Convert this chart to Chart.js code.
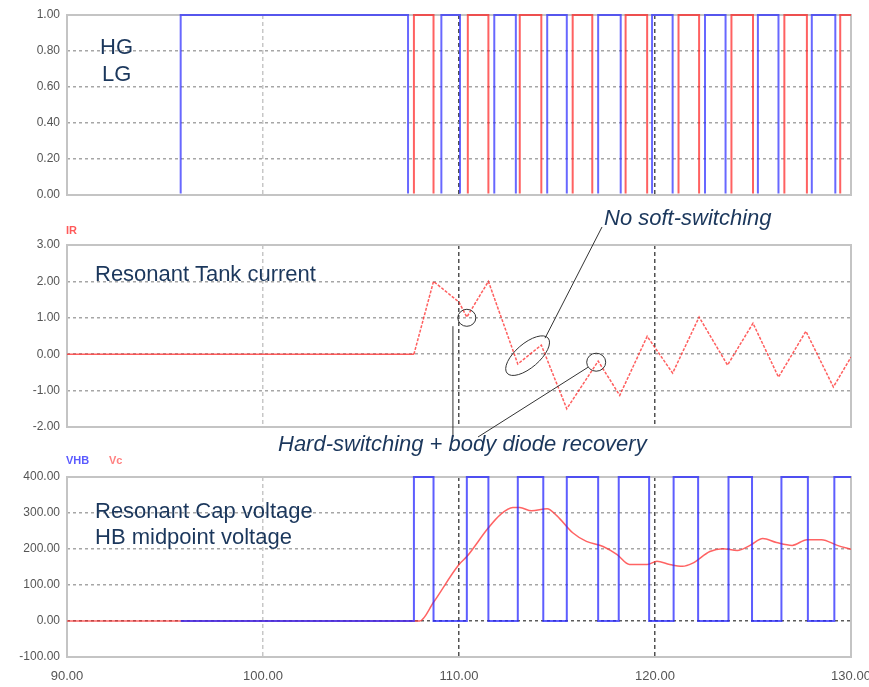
<!DOCTYPE html>
<html>
<head>
<meta charset="utf-8">
<script src="https://cdn.jsdelivr.net/npm/chart.js@4"></script>
<style>
  body { margin: 0; background: #fff; width: 869px; height: 687px; position: relative; overflow: hidden;
         font-family: "Liberation Sans", Arial, sans-serif; }
  canvas { position: absolute; left: 0; }
  .note { position: absolute; font-size: 22px; line-height: 22px; color: #1b375c; white-space: nowrap; z-index: 5; }
  .note.it { font-style: italic; }
  .tag { position: absolute; font-size: 11px; line-height: 12px; font-weight: bold; z-index: 5; }
</style>
</head>
<body>
<canvas id="gates" width="869" height="205" style="top:0"></canvas>
<canvas id="current" width="869" height="255" style="top:205px"></canvas>
<canvas id="voltage" width="869" height="247" style="top:440px"></canvas>

<div class="note" style="left:100px;top:36px">HG</div>
<div class="note" style="left:102px;top:63px">LG</div>
<div class="note" style="left:95px;top:263px">Resonant Tank current</div>
<div class="note it" style="left:604px;top:207px">No soft-switching</div>
<div class="note it" style="left:278px;top:433px">Hard-switching + body diode recovery</div>
<div class="note" style="left:95px;top:500px">Resonant Cap voltage</div>
<div class="note" style="left:95px;top:526px">HB midpoint voltage</div>
<div class="tag" style="left:66px;top:224px;color:#ff5a5a">IR</div>
<div class="tag" style="left:66px;top:454px;color:#5a5aff">VHB</div>
<div class="tag" style="left:109px;top:454px;color:#ff8080">Vc</div>

<script>
// time axis (us)
const xTicks = [90, 100, 110, 120, 130];
const cursorTimes = [110, 120];

// gate drives: switching instants and the level held after each one
const hgTimes  = [90, 95.8, 107.4, 109.1, 110.05, 111.8, 112.9, 114.5, 115.5, 117.1, 118.25, 119.85, 120.9, 122.55, 123.6, 125.25, 126.3, 128.0, 129.2, 130];
const hgLevels = [0, 1, 0, 1, 0, 1, 0, 1, 0, 1, 0, 1, 0, 1, 0, 1, 0, 1, 0, 0];
const lgTimes  = [90, 107.7, 108.7, 110.45, 111.5, 113.1, 114.2, 115.8, 116.8, 118.5, 119.6, 121.2, 122.25, 123.9, 125.0, 126.6, 127.75, 129.45, 130];
const lgLevels = [0, 1, 0, 1, 0, 1, 0, 1, 0, 1, 0, 1, 0, 1, 0, 1, 0, 1, 1];

// resonant tank current (A)
const irTimes  = [90, 107.7, 108.7, 110.0, 110.4, 111.5, 113.0, 114.2, 115.5, 117.1, 118.2, 119.6, 120.9, 122.25, 123.7, 125.0, 126.3, 127.7, 129.1, 130];
const irValues = [0, 0, 2.0, 1.43, 1.02, 2.0, -0.27, 0.25, -1.5, -0.19, -1.13, 0.49, -0.52, 1.02, -0.3, 0.85, -0.63, 0.63, -0.9, -0.08];

// half-bridge midpoint (V)
const vhbTimes  = [95.8, 107.7, 108.7, 110.4, 111.5, 113.0, 114.3, 115.5, 117.1, 118.15, 119.7, 120.95, 122.2, 123.75, 124.95, 126.45, 127.8, 129.15, 130];
const vhbLevels = [0, 400, 0, 400, 0, 400, 0, 400, 0, 400, 0, 400, 0, 400, 0, 400, 0, 400, 400];

// resonant cap voltage (V)
const vcTimes  = [90, 108.0, 108.7, 110.0, 110.4, 111.5, 112.1, 112.75, 113.1, 113.7, 114.5, 115.0, 115.8, 116.5, 117.35, 118.05, 118.7, 119.6, 120.1, 120.75, 121.4, 121.9, 122.8, 123.45, 124.2, 124.85, 125.5, 126.2, 127.0, 127.75, 128.5, 129.3, 130];
const vcValues = [0, 0, 52, 157, 179, 259, 295, 315, 315, 306, 312, 292, 245, 221, 207, 185, 157, 157, 166, 157, 152, 160, 193, 201, 196, 210, 229, 218, 210, 226, 226, 210, 199];

const FONT = '"Liberation Sans", Arial, sans-serif';

function pair(xs, ys) {
  return xs.map((x, i) => ({ x: x, y: ys[i] }));
}

// grey frame round the plot area
const framePlugin = {
  id: 'frame',
  beforeDatasetsDraw(chart) {
    const { ctx, chartArea: a } = chart;
    ctx.save();
    ctx.strokeStyle = '#c4c4c4';
    ctx.lineWidth = 2;
    ctx.strokeRect(a.left, a.top, a.right - a.left, a.bottom - a.top);
    ctx.restore();
  }
};

function xScale(showLabels) {
  return {
    type: 'linear', min: 90, max: 130,
    afterBuildTicks: s => { s.ticks = xTicks.map(v => ({ value: v })); },
    afterFit: s => { s.paddingLeft = 0; s.paddingRight = 0; s.height = showLabels ? 30 : 0; },
    grid: {
      drawTicks: false, lineWidth: 1.5,
      color: c => cursorTimes.includes(c.tick.value) ? 'rgba(50,50,50,0.85)' : 'rgba(185,185,185,0.8)'
    },
    border: { display: false, dash: [4, 3] },
    ticks: {
      display: showLabels, padding: 12, maxRotation: 0, color: '#555',
      font: { size: 13, family: FONT },
      callback: v => v.toFixed(2)
    }
  };
}

function yScale(min, max, step, darkZero) {
  return {
    min: min, max: max,
    afterFit: s => { s.width = 67; s.paddingTop = 0; s.paddingBottom = 0; },
    grid: {
      drawTicks: false, lineWidth: 1.5,
      color: c => (darkZero && c.tick.value === 0) ? 'rgba(50,50,50,0.8)' : 'rgba(150,150,150,0.85)'
    },
    border: { display: false, dash: [3, 3] },
    ticks: {
      stepSize: step, padding: 7, color: '#555',
      font: { size: 12, family: FONT },
      callback: v => v.toFixed(2)
    }
  };
}

function baseOptions(padding, showX, yOpts) {
  return {
    responsive: false,
    animation: false,
    layout: { padding: padding },
    elements: { point: { radius: 0 } },
    plugins: { legend: { display: false }, tooltip: { enabled: false } },
    scales: { x: xScale(showX), y: yOpts }
  };
}

// gate traces: the low level sits under the bottom frame, so clip it away
const gateClip = { left: 0, top: 3, right: 0, bottom: -1.5 };

// panel 1: gate signals
new Chart(document.getElementById('gates'), {
  type: 'line',
  data: {
    datasets: [
      { data: pair(lgTimes, lgLevels), stepped: true, borderColor: 'rgba(255,30,30,0.7)', borderWidth: 2, clip: gateClip },
      { data: pair(hgTimes, hgLevels), stepped: true, borderColor: 'rgba(40,40,255,0.7)', borderWidth: 2, clip: gateClip }
    ]
  },
  options: baseOptions({ top: 15, right: 18, bottom: 10, left: 0 }, false, yScale(0, 1, 0.2, false)),
  plugins: [framePlugin]
});

// callouts on the current plot
const calloutPlugin = {
  id: 'callouts',
  afterDatasetsDraw(chart) {
    const { ctx, scales: { x, y } } = chart;
    const px = v => x.getPixelForValue(v);
    const py = v => y.getPixelForValue(v);
    ctx.save();
    ctx.strokeStyle = '#333';
    ctx.lineWidth = 1;
    ctx.beginPath(); ctx.ellipse(px(110.4), py(1.0), 9, 8.5, 0, 0, 2 * Math.PI); ctx.stroke();
    ctx.beginPath(); ctx.ellipse(px(113.5), py(-0.04), 27, 12, -0.71, 0, 2 * Math.PI); ctx.stroke();
    ctx.beginPath(); ctx.ellipse(px(117.0), py(-0.22), 9.5, 9, 0, 0, 2 * Math.PI); ctx.stroke();
    ctx.beginPath();
    ctx.moveTo(602, 22); ctx.lineTo(px(114.39), py(0.44));
    ctx.moveTo(px(109.69), py(0.77)); ctx.lineTo(px(109.69), 232);
    ctx.moveTo(478, 232); ctx.lineTo(px(116.58), py(-0.36));
    ctx.stroke();
    ctx.restore();
  }
};

// panel 2: resonant tank current
new Chart(document.getElementById('current'), {
  type: 'line',
  data: {
    datasets: [{
      data: pair(irTimes, irValues),
      borderColor: 'rgba(255,40,40,0.75)', borderWidth: 1.5,
      segment: { borderDash: c => c.p0.parsed.x >= 107.7 ? [3, 1.5] : undefined }
    }]
  },
  options: baseOptions({ top: 40, right: 18, bottom: 33, left: 0 }, false, yScale(-2, 3, 1, false)),
  plugins: [framePlugin, calloutPlugin]
});

// panel 3: HB midpoint and resonant cap voltage
new Chart(document.getElementById('voltage'), {
  type: 'line',
  data: {
    datasets: [
      { data: pair(vhbTimes, vhbLevels), stepped: true, borderColor: 'rgba(40,40,255,0.75)', borderWidth: 2, clip: 3 },
      { data: pair(vcTimes, vcValues), borderColor: 'rgba(255,60,60,0.8)', borderWidth: 1.5,
        tension: 0.4, cubicInterpolationMode: 'monotone' }
    ]
  },
  options: baseOptions({ top: 37, right: 18, bottom: 0, left: 0 }, true, yScale(-100, 400, 100, true)),
  plugins: [framePlugin]
});
</script>
</body>
</html>
